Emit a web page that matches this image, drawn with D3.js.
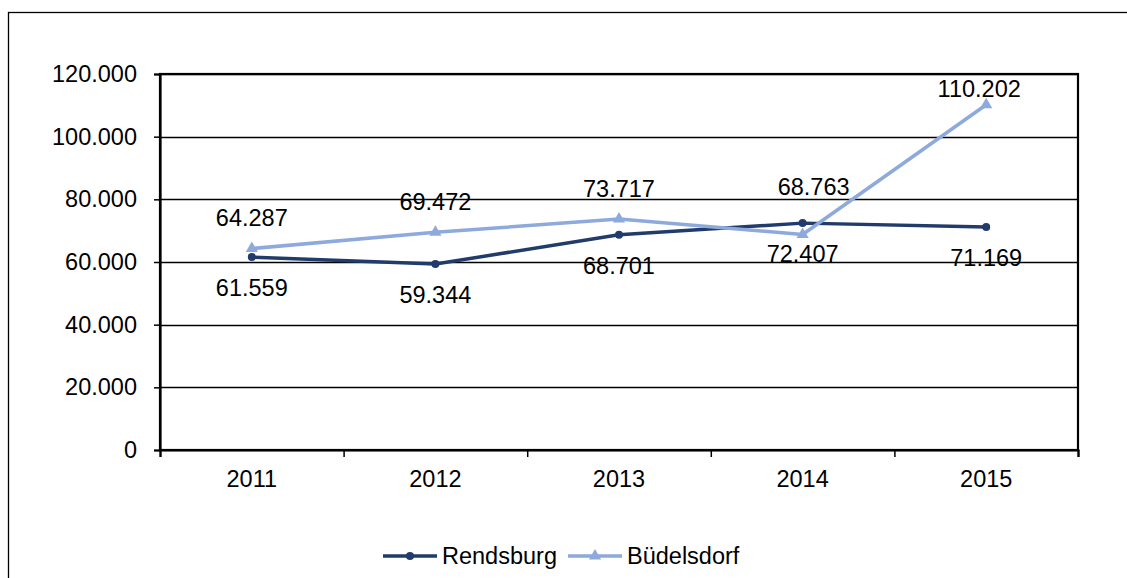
<!DOCTYPE html>
<html>
<head>
<meta charset="utf-8">
<script src="https://cdn.jsdelivr.net/npm/d3@7"></script>
<style>
  html, body { margin: 0; padding: 0; background: #fff; }
  svg { display: block; }
  text { font-family: "Liberation Sans", Arial, sans-serif; fill: #000; }
</style>
</head>
<body>
<svg id="chart" width="1127" height="578"></svg>
<script>
// Years on the category axis
const years = ["2011", "2012", "2013", "2014", "2015"];
// Series values
const rendsburg = [61559, 59344, 68701, 72407, 71169];
const buedelsdorf = [64287, 69472, 73717, 68763, 110202];
// Value axis ticks
const yTicks = [0, 20000, 40000, 60000, 80000, 100000, 120000];
const seriesNames = ["Rendsburg", "Büdelsdorf"];

const colors = { Rendsburg: "#213B6B", "Büdelsdorf": "#8EA9DB" };
const fontSize = 23.5;

const de = d3.formatLocale({ decimal: ",", thousands: ".", grouping: [3], currency: ["", " €"] });
const fmt = de.format(",.0f");

const svg = d3.select("#chart");

// outer chart frame (runs past the right and bottom edges)
svg.append("rect")
  .attr("x", 8.5).attr("y", 12.5)
  .attr("width", 1140).attr("height", 600)
  .attr("fill", "none").attr("stroke", "#000").attr("stroke-width", 1.3);

const plot = { left: 160, top: 74, right: 1078, bottom: 450 };

const x = d3.scaleBand().domain(years).range([plot.left, plot.right]).paddingInner(0).paddingOuter(0);
const xEdge = d3.scaleLinear().domain([0, years.length]).range([plot.left, plot.right]);
const y = d3.scaleLinear().domain([0, 120000]).range([plot.bottom, plot.top]);
const cx = d => x(d) + x.bandwidth() / 2;

// horizontal gridlines
svg.append("g")
  .selectAll("line")
  .data(yTicks.filter(t => t > 0))
  .join("line")
  .attr("x1", plot.left).attr("x2", plot.right)
  .attr("y1", d => Math.round(y(d)) + 0.5).attr("y2", d => Math.round(y(d)) + 0.5)
  .attr("stroke", "#000").attr("stroke-width", 1.4);

// plot frame
svg.append("rect")
  .attr("x", plot.left).attr("y", plot.top)
  .attr("width", plot.right - plot.left).attr("height", plot.bottom - plot.top)
  .attr("fill", "none").attr("stroke", "#000").attr("stroke-width", 2.2);

// value axis
const yAxis = svg.append("g")
  .attr("transform", `translate(${plot.left},0)`)
  .call(d3.axisLeft(y).tickValues(yTicks).tickFormat(fmt).tickSize(6).tickPadding(17));
yAxis.select(".domain").attr("stroke", "#000").attr("stroke-width", 2.2);
yAxis.selectAll(".tick line").attr("stroke", "#000").attr("stroke-width", 1.5);
yAxis.selectAll("text").attr("font-size", fontSize).attr("font-family", "Liberation Sans, Arial, sans-serif");

// category axis: tick marks at band edges, labels at band centres
const xTicks = svg.append("g")
  .attr("transform", `translate(0,${plot.bottom})`)
  .call(d3.axisBottom(xEdge).tickValues(d3.range(years.length + 1)).tickFormat("").tickSize(7));
xTicks.select(".domain").attr("stroke", "#000").attr("stroke-width", 2.2);
xTicks.selectAll(".tick line").attr("stroke", "#000").attr("stroke-width", 1.5);

const xLabels = svg.append("g")
  .attr("transform", `translate(0,${plot.bottom})`)
  .call(d3.axisBottom(x).tickSize(0).tickPadding(20));
xLabels.select(".domain").remove();
xLabels.selectAll("text").attr("font-size", fontSize).attr("font-family", "Liberation Sans, Arial, sans-serif");

const line = d3.line().x(d => cx(d.year)).y(d => y(d.value));
const rows = (vals) => years.map((yr, i) => ({ year: yr, value: vals[i] }));

// Rendsburg
const rData = rows(rendsburg);
svg.append("path").datum(rData)
  .attr("d", line).attr("fill", "none")
  .attr("stroke", colors.Rendsburg).attr("stroke-width", 3.5).attr("stroke-linejoin", "round");
svg.append("g").selectAll("circle").data(rData).join("circle")
  .attr("cx", d => cx(d.year)).attr("cy", d => y(d.value)).attr("r", 4)
  .attr("fill", colors.Rendsburg);

// Büdelsdorf
const bData = rows(buedelsdorf);
svg.append("path").datum(bData)
  .attr("d", line).attr("fill", "none")
  .attr("stroke", colors["Büdelsdorf"]).attr("stroke-width", 3.5).attr("stroke-linejoin", "round");
const tri = d3.symbol().type(d3.symbolTriangle).size(64);
svg.append("g").selectAll("path").data(bData).join("path")
  .attr("d", tri)
  .attr("transform", d => `translate(${cx(d.year)},${y(d.value)})`)
  .attr("fill", colors["Büdelsdorf"]);

// data labels: Rendsburg below its points, Büdelsdorf above (two moved by hand)
svg.append("g").selectAll("text").data(rData).join("text")
  .attr("x", d => cx(d.year)).attr("y", d => y(d.value) + 31)
  .attr("dy", "0.35em").attr("text-anchor", "middle").attr("font-size", fontSize)
  .text(d => fmt(d.value));

const budNudge = { "2014": [11, -17], "2015": [-7, 15] };
svg.append("g").selectAll("text").data(bData).join("text")
  .attr("x", d => cx(d.year) + (budNudge[d.year] ? budNudge[d.year][0] : 0))
  .attr("y", d => y(d.value) - 30.5 + (budNudge[d.year] ? budNudge[d.year][1] : 0))
  .attr("dy", "0.35em").attr("text-anchor", "middle").attr("font-size", fontSize)
  .text(d => fmt(d.value));

// legend
const legendItems = [
  { name: seriesNames[0], x0: 383, marker: "circle" },
  { name: seriesNames[1], x0: 568, marker: "triangle" }
];
const ly = 556;
const lg = svg.append("g");
legendItems.forEach(it => {
  const c = colors[it.name];
  lg.append("line").attr("x1", it.x0).attr("x2", it.x0 + 54)
    .attr("y1", ly).attr("y2", ly).attr("stroke", c).attr("stroke-width", 3.5);
  if (it.marker === "circle") {
    lg.append("circle").attr("cx", it.x0 + 27).attr("cy", ly).attr("r", 4).attr("fill", c);
  } else {
    lg.append("path").attr("d", tri).attr("transform", `translate(${it.x0 + 27},${ly})`).attr("fill", c);
  }
  lg.append("text").attr("x", it.x0 + 59).attr("y", ly).attr("dy", "0.35em")
    .attr("font-size", fontSize).text(it.name);
});
</script>
</body>
</html>
